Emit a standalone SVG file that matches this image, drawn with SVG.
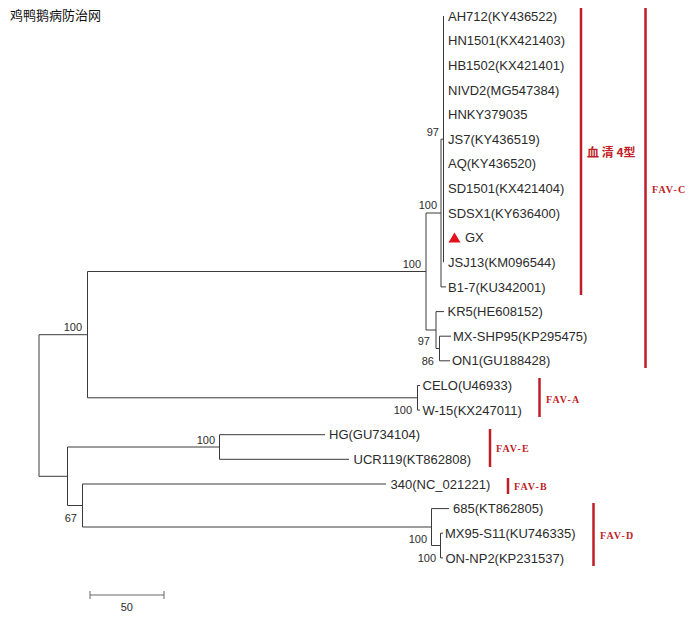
<svg xmlns="http://www.w3.org/2000/svg" width="698" height="628" viewBox="0 0 698 628">
<style>
.t{font-family:"Liberation Sans",Arial,sans-serif;font-size:13px;fill:#2b2b2b}
.b{font-family:"Liberation Sans",Arial,sans-serif;font-size:11px;fill:#2b2b2b;text-anchor:end}
.br{fill:none;stroke:#3a3a3a;stroke-width:1}
.bar{stroke:#c01d28;stroke-width:2.5}
.fav{font-family:"Liberation Serif","Times New Roman",serif;font-size:10px;font-weight:bold;fill:#c01d28;letter-spacing:1.2px}
.cjk{font-family:"Noto Sans CJK SC",sans-serif;font-size:12px;font-weight:bold;fill:#c01d28}
</style>
<rect width="698" height="628" fill="#fff"/>
<text id="title" x="10" y="20" style="font-family:'Noto Sans CJK SC',sans-serif;font-size:13px;fill:#111">鸡鸭鹅病防治网</text>

<g id="connectors" class="br">
<path d="M443.5 16V262.3M441 139.2H443.5M441 139.2V286.9H446M426 213H441"/>
<path d="M426 213V330M426 330H436M436 311.6V348.5M436 311.6H444M436 348.5H439.5M439.5 336.2V360.8M439.5 336.2H451M439.5 360.8H450"/>
<path d="M87.5 271.5H426M87.5 271.5V397.8M87.5 397.8H417.5M417.5 385.5V410.1M417.5 385.5H420M417.5 410.1H420"/>
<path d="M39 334.7H87.5M39 334.7V476.3H67.5M67.5 447V505.5"/>
<path d="M67.5 447H219.5M219.5 434.7V459.3M219.5 434.7H325M219.5 459.3H349"/>
<path d="M67.5 505.5H82.5M82.5 484V527M82.5 484H386M82.5 527H431.5M431.5 508.6V545.5M431.5 508.6H449M431.5 545.5H440.5M440.5 533.2V557.9M440.5 533.2H443M440.5 557.9H443"/>
</g>

<g id="bootstrap">
<text class="b" x="439" y="136">97</text>
<text class="b" x="437" y="209">100</text>
<text class="b" x="421" y="268">100</text>
<text class="b" x="430" y="345">97</text>
<text class="b" x="434" y="365">86</text>
<text class="b" x="412" y="414">100</text>
<text class="b" x="82" y="331">100</text>
<text class="b" x="215" y="444">100</text>
<text class="b" x="77" y="522">67</text>
<text class="b" x="427" y="543">100</text>
<text class="b" x="436" y="562">100</text>
</g>

<g id="n-AH712"><text class="t" x="448" y="20.6">AH712(KY436522)</text></g>
<g id="n-HN1501"><text class="t" x="448" y="45.2">HN1501(KX421403)</text></g>
<g id="n-HB1502"><text class="t" x="448" y="69.9">HB1502(KX421401)</text></g>
<g id="n-NIVD2"><text class="t" x="448" y="94.5">NIVD2(MG547384)</text></g>
<g id="n-HNKY"><text class="t" x="448" y="119.1">HNKY379035</text></g>
<g id="n-JS7"><text class="t" x="448" y="143.8">JS7(KY436519)</text></g>
<g id="n-AQ"><text class="t" x="448" y="168.4">AQ(KY436520)</text></g>
<g id="n-SD1501"><text class="t" x="448" y="193">SD1501(KX421404)</text></g>
<g id="n-SDSX1"><text class="t" x="448" y="217.6">SDSX1(KY636400)</text></g>
<g id="n-GX"><polygon points="448.5,242.5 454.5,232.5 460.5,242.5" fill="#e3131b"/><text class="t" x="465" y="242.3">GX</text></g>
<g id="n-JSJ13"><text class="t" x="448" y="266.9">JSJ13(KM096544)</text></g>
<g id="n-B1-7"><text class="t" x="448" y="291.5">B1-7(KU342001)</text></g>
<g id="n-KR5"><text class="t" x="447.5" y="316.2">KR5(HE608152)</text></g>
<g id="n-MX-SHP95"><text class="t" x="453" y="340.8">MX-SHP95(KP295475)</text></g>
<g id="n-ON1"><text class="t" x="452" y="365.4">ON1(GU188428)</text></g>
<g id="n-CELO"><text class="t" x="422.5" y="390.1">CELO(U46933)</text></g>
<g id="n-W-15"><text class="t" x="422.5" y="414.7">W-15(KX247011)</text></g>
<g id="n-HG"><text class="t" x="329" y="439.3">HG(GU734104)</text></g>
<g id="n-UCR119"><text class="t" x="353.5" y="463.9">UCR119(KT862808)</text></g>
<g id="n-340"><text class="t" x="390.5" y="488.6">340(NC_021221)</text></g>
<g id="n-685"><text class="t" x="453" y="513.2">685(KT862805)</text></g>
<g id="n-MX95-S11"><text class="t" x="445" y="537.8">MX95-S11(KU746335)</text></g>
<g id="n-ON-NP2"><text class="t" x="445.5" y="562.5">ON-NP2(KP231537)</text></g>

<g id="group-serotype4"><line class="bar" x1="581" y1="8" x2="581" y2="295"/><text class="cjk" x="587" y="157">血 清 4型</text></g>
<g id="group-FAV-C"><line class="bar" x1="645.5" y1="8" x2="645.5" y2="368"/><text class="fav" x="652" y="193">FAV-C</text></g>
<g id="group-FAV-A"><line class="bar" x1="539.5" y1="378" x2="539.5" y2="417"/><text class="fav" x="546" y="403">FAV-A</text></g>
<g id="group-FAV-E"><line class="bar" x1="490" y1="429" x2="490" y2="467"/><text class="fav" x="496" y="452">FAV-E</text></g>
<g id="group-FAV-B"><line class="bar" x1="508" y1="478" x2="508" y2="494"/><text class="fav" x="514" y="490">FAV-B</text></g>
<g id="group-FAV-D"><line class="bar" x1="593.5" y1="503" x2="593.5" y2="566"/><text class="fav" x="600" y="539">FAV-D</text></g>

<g id="scale">
<path d="M90 595H164M90 591V599M164 591V599" fill="none" stroke="#666" stroke-width="1"/>
<text class="b" x="133" y="611">50</text>
</g>
</svg>
